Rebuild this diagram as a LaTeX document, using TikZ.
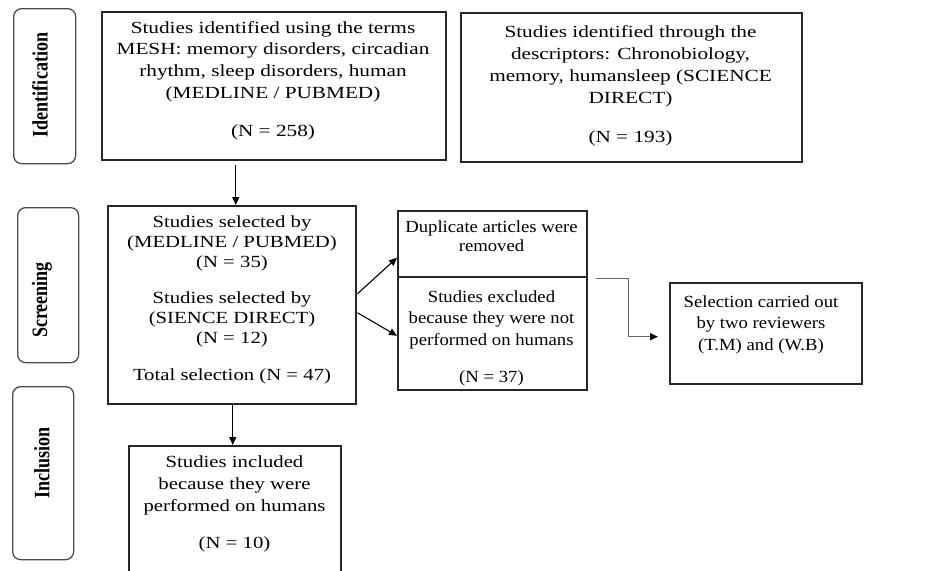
\documentclass[tikz,border=0pt]{standalone}
\usepackage{fontspec}
\setmainfont{Liberation Serif}
\newfontfamily\fa[FakeStretch=1.25]{Liberation Serif}
\newfontfamily\fb[FakeStretch=1.22]{Liberation Serif}
\newfontfamily\fc[FakeStretch=1.1]{Liberation Serif}
\newfontfamily\labfont[FakeStretch=0.82]{Liberation Serif}
\usetikzlibrary{arrows.meta}
\begin{document}
\begin{tikzpicture}[x=1pt,y=-1pt,
 box/.style={draw=black!85, line width=1.5pt, inner sep=0pt, anchor=north west},
 txt/.style={align=center, inner sep=0pt, anchor=north, text=black},
 stage/.style={draw=black!70, line width=1.3pt, rounded corners=8pt, inner sep=0pt, anchor=north west},
 lab/.style={rotate=90, inner sep=0pt, font=\labfont\bfseries\fontsize{22}{22}\selectfont},
 arr/.style={line width=1.1pt, -{Triangle[length=8pt,width=7pt]}},
 elb/.style={draw=black!60, line width=1.2pt, -{Triangle[length=8pt,width=7pt,color=black]}}
]
\useasboundingbox (0,0) rectangle (952,570);

% stage labels
\node[stage, minimum width=62pt, minimum height=155pt] (s1) at (13,8) {};
\node[lab] (s1t) at (40,85) {Identification};
\node[stage, minimum width=61pt, minimum height=155pt] (s2) at (17,207) {};
\node[lab] (s2t) at (42,300) {Screening};
\node[stage, minimum width=61pt, minimum height=173pt] (s3) at (12,386) {};
\node[lab] (s3t) at (42,463) {Inclusion};

% boxes
\node[box, minimum width=344pt, minimum height=148pt] (b1) at (101,11) {};
\node[box, minimum width=341pt, minimum height=149pt] (b2) at (460,12) {};
\node[box, minimum width=248pt, minimum height=198pt] (b3) at (107,205) {};
\node[box, minimum width=189pt, minimum height=66pt] (b4a) at (397,210) {};
\node[box, minimum width=189pt, minimum height=113pt] (b4b) at (397,276) {};
\node[box, minimum width=192pt, minimum height=101pt] (b5) at (669,282) {};
\node[box, minimum width=212pt, minimum height=127pt] (b6) at (128,445) {};

% texts
\node[txt, font=\fa\fontsize{17}{21.7}\selectfont] (b1t) at (273,21)
 {Studies identified using the terms\\ MESH: memory disorders, circadian\\ rhythm, sleep disorders, human\\ (MEDLINE / PUBMED)\\[17pt] (N = 258)};
\node[txt, font=\fa\fontsize{17}{22}\selectfont] (b2t) at (630.5,25)
 {Studies identified through the\\ descriptors: Chronobiology,\\ memory, humansleep (SCIENCE\\ DIRECT)\\[17pt] (N = 193)};
\node[txt, font=\fb\fontsize{17}{20}\selectfont] (b3t) at (232,215)
 {Studies selected by\\ (MEDLINE / PUBMED)\\ (N = 35)\\[16pt] Studies selected by\\ (SIENCE DIRECT)\\ (N = 12)\\[17pt] Total selection (N = 47)};
\node[txt, font=\fc\fontsize{17}{19}\selectfont] (b4at) at (491.5,221)
 {Duplicate articles were\\ removed};
\node[txt, font=\fc\fontsize{17}{21.5}\selectfont] (b4bt) at (491.5,290)
 {Studies excluded\\ because they were not\\ performed on humans\\[15.5pt] (N = 37)};
\node[txt, font=\fc\fontsize{17}{21.5}\selectfont] (b5t) at (761,295)
 {Selection carried out\\ by two reviewers\\ (T.M) and (W.B)};
\node[txt, font=\fb\fontsize{17}{22}\selectfont] (b6t) at (234.5,455)
 {Studies included\\ because they were\\ performed on humans\\[15pt] (N = 10)};

% connectors
\draw[arr] ([xshift=-38pt,yshift=-4pt]b1.south) -- ([xshift=4pt]b3.north);
\draw[arr] ([xshift=1pt]b3.south) -- ([xshift=1pt]b3.south |- b6.north);
\draw[arr] ([xshift=1pt,yshift=11pt]b3.east) -- ([yshift=-14pt]b4a.west);
\draw[arr] ([xshift=1pt,yshift=-8pt]b3.east) -- ([yshift=-2.5pt]b4b.west);
\draw[elb] ([xshift=8pt,yshift=-1pt]b4a.south east) -- ++(33,0) |- ([xshift=-11pt,yshift=-3.5pt]b5.west);
\end{tikzpicture}
\end{document}
